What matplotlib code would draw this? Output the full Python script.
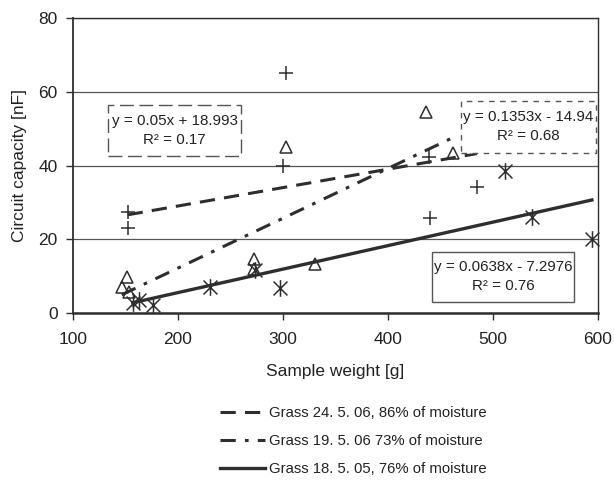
import numpy as np
import matplotlib
matplotlib.use("Agg")
import matplotlib.pyplot as plt
from matplotlib.path import Path
from matplotlib.patches import Rectangle

plt.rcParams["font.family"] = ["Liberation Sans", "DejaVu Sans"]

# ---- data ----
# Grass 24. 5. 06 (plus markers)
g24_x = [152.1, 152.7, 300.5, 302.8, 439.4, 440.3, 484.8]
g24_y = [27.4, 22.9, 39.9, 65.1, 42.4, 25.8, 34.2]
# Grass 19. 5. 06 (open triangles)
g19_x = [146.4, 151.2, 153.0, 272.5, 272.5, 303.0, 330.7, 436.2, 462.0]
g19_y = [7.1, 9.6, 5.7, 14.5, 12.0, 45.1, 13.2, 54.6, 43.3]
# Grass 18. 5. 05 (asterisks)
g18_x = [156.9, 163.2, 176.6, 230.6, 273.0, 297.3, 511.8, 537.3, 594.5]
g18_y = [2.7, 3.45, 2.1, 7.1, 11.5, 6.6, 38.6, 26.1, 20.0]

# trendline coefficients as printed on the chart
fit24 = (0.05, 18.993)
fit19 = (0.1353, -14.94)
fit18 = (0.0638, -7.2976)
eq_text = [
    "y = 0.05x + 18.993\nR² = 0.17",
    "y = 0.1353x - 14.94\nR² = 0.68",
    "y = 0.0638x - 7.2976\nR² = 0.76",
]
labels = [
    "Grass 24. 5. 06, 86% of moisture",
    "Grass 19. 5. 06 73% of moisture",
    "Grass 18. 5. 05, 76% of moisture",
]

INK = "#2e2e2e"
GRID = "#555555"

# excel-style asterisk: X plus a vertical bar
star = Path(
    [(-1, -1), (1, 1), (-1, 1), (1, -1), (0, -1.2), (0, 1.2)],
    [Path.MOVETO, Path.LINETO, Path.MOVETO, Path.LINETO, Path.MOVETO, Path.LINETO],
)

fig = plt.figure(figsize=(6.14, 4.84), dpi=100, facecolor="white")
ax = fig.add_axes([0.1189, 0.3539, 0.8545, 0.6083])

ax.set_xlim(100, 600)
ax.set_ylim(0, 80)
ax.set_xticks(range(100, 601, 100))
ax.set_yticks(range(0, 81, 20))
ax.yaxis.grid(True, color=GRID, linewidth=0.9)
ax.set_axisbelow(True)
for s in ax.spines.values():
    s.set_color(INK)
    s.set_linewidth(1.0)
ax.spines["left"].set_linewidth(1.3)
ax.spines["bottom"].set_linewidth(1.8)
ax.tick_params(direction="out", length=5, width=1, colors=INK, labelsize=12.5,
               labelcolor="#222222")
ax.tick_params(axis="y", pad=6)
ax.tick_params(axis="x", pad=9)

# scatter points
ax.plot(g24_x, g24_y, ls="none", marker="+", ms=10, mew=1.1, color=INK, clip_on=False)
ax.plot(g19_x, g19_y, ls="none", marker="^", ms=9, mew=1.1, mfc="none", mec=INK, clip_on=False)
ax.plot(g18_x, g18_y, ls="none", marker=star, ms=12, mew=1.1, color=INK, clip_on=False)

# trendlines across each series' x range
def trend(xs, coef):
    xx = np.array([min(xs), max(xs)])
    return xx, coef[0] * xx + coef[1]

h1, = ax.plot(*trend(g24_x, fit24), color=INK, lw=2.2, dashes=(5, 3))
h2, = ax.plot(*trend(g19_x, fit19), color=INK, lw=2.2, dashes=(5, 3, 1.2, 3))
h3, = ax.plot(*trend(g18_x, fit18), color=INK, lw=2.4, ls="-")

# equation boxes (data coords: x0, y0, x1, y1)
boxes = [
    ((133.7, 42.5, 260.2, 56.4), (10, 4)),
    ((469.6, 43.5, 598.3, 57.6), (4, 4)),
    ((442.5, 3.0, 577.6, 16.6), None),
]
for (x0, y0, x1, y1), dash, txt in zip([b[0] for b in boxes], [b[1] for b in boxes], eq_text):
    r = Rectangle((x0, y0), x1 - x0, y1 - y0, fill=True, facecolor="white",
                  edgecolor=GRID, lw=1.0, clip_on=False, zorder=3)
    if dash:
        r.set_linestyle((0, dash))
    ax.add_patch(r)
    ax.text((x0 + x1) / 2, (y0 + y1) / 2, txt, ha="center", va="center",
            fontsize=10.9, color="#222222", linespacing=1.45, zorder=4)

ax.set_xlabel("Sample weight [g]", fontsize=12.5, color="#222222", labelpad=12)
ax.set_ylabel("Circuit capacity [nF]", fontsize=12.5, color="#222222", labelpad=8)

fig.legend([h1, h2, h3], labels, loc="upper left", bbox_to_anchor=(0.349, 0.174),
           frameon=False, fontsize=10.7, handlelength=3.0, handletextpad=0.3,
           labelspacing=0.95, borderaxespad=0, labelcolor="#222222")

fig.savefig("out.png", dpi=100, facecolor="white")
